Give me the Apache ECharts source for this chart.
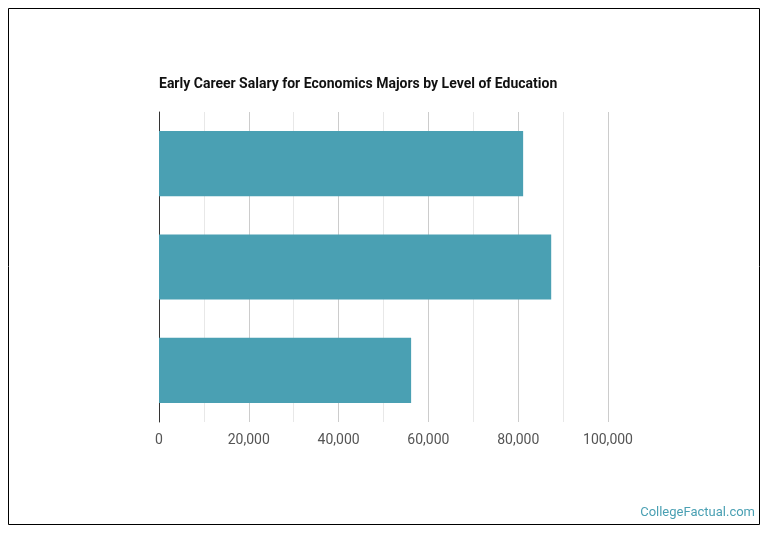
<!DOCTYPE html>
<html>
<head>
<meta charset="utf-8">
<script src="https://cdn.jsdelivr.net/npm/echarts@6/dist/echarts.min.js"></script>
<style>
html,body{margin:0;padding:0;background:#fff;}
#main{width:770px;height:536px;}
</style>
</head>
<body>
<div id="main"></div>
<script>
var categories = ["Bachelor's Degree", "Master's Degree", "Doctorate Degree"];
var salaries = [81100, 87350, 56150];
var xTicks = [0, 20000, 40000, 60000, 80000, 100000];

var chart = echarts.init(document.getElementById('main'), null, {renderer: 'canvas'});
chart.setOption({
  animation: false,
  backgroundColor: '#fff',
  title: {
    text: 'Early Career Salary for Economics Majors by Level of Education',
    left: 159, top: 77,
    padding: 0,
    textStyle: {fontFamily: 'Roboto', fontWeight: 'bold', fontSize: 14, color: '#111'}
  },
  grid: {left: 159, right: 162, top: 112, bottom: 114, containLabel: false},
  xAxis: {
    type: 'value',
    min: xTicks[0], max: xTicks[xTicks.length - 1], interval: 20000,
    axisLine: {show: false},
    axisTick: {show: false},
    axisLabel: {
      fontFamily: 'Roboto', fontSize: 14, color: '#555', margin: 11,
      formatter: function (v) { return v.toLocaleString('en-US'); }
    },
    splitLine: {show: true, lineStyle: {color: '#cccccc', width: 1}},
    minorTick: {show: false, splitNumber: 2},
    minorSplitLine: {show: true, lineStyle: {color: '#e8e8e8', width: 1}}
  },
  yAxis: {
    type: 'category',
    data: categories,
    inverse: true,
    axisLine: {show: true, lineStyle: {color: '#333', width: 1}},
    axisTick: {show: false},
    axisLabel: {show: false},
    splitLine: {show: false}
  },
  series: [{
    type: 'bar',
    data: salaries,
    barWidth: '63%',
    itemStyle: {color: '#4aa0b3'}
  }],
  graphic: [
    {type: 'rect', shape: {x: 8.5, y: 8.5, width: 751, height: 516}, style: {fill: null, stroke: '#000', lineWidth: 1}, z: 100},
    {type: 'text', right: 15, top: 506, style: {text: 'CollegeFactual.com', fill: '#4aa0b3', font: '13px Roboto'}}
  ]
});
</script>
</body>
</html>
